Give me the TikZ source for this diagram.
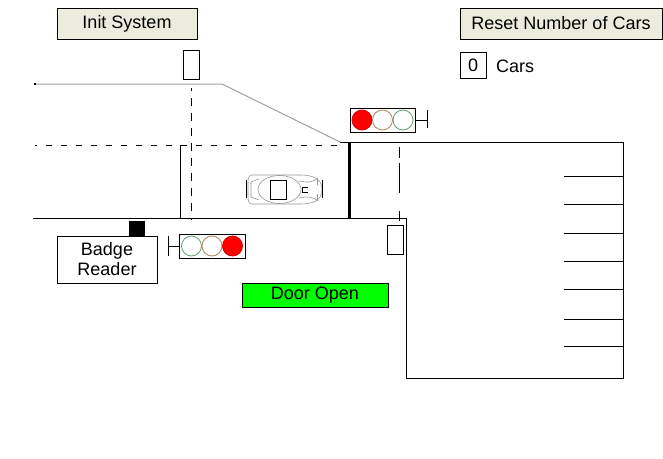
\documentclass[tikz,border=0pt]{standalone}
\usepackage{fontspec}
\setmainfont{Liberation Sans}
\definecolor{btnbg}{RGB}{236,236,222}
\definecolor{roadgray}{RGB}{160,160,160}
\definecolor{cargray}{RGB}{150,150,150}
\definecolor{lampred}{RGB}{255,0,0}
\definecolor{lampbrown}{RGB}{168,136,96}
\definecolor{lampgreen}{RGB}{96,160,112}
\definecolor{dooron}{RGB}{0,255,0}
\begin{document}
\begin{tikzpicture}[x=1pt,y=-1pt,
  every node/.style={inner sep=0pt, outer sep=0pt},
  label18/.style={font=\fontsize{18}{21}\selectfont},
  btn/.style={draw=black, fill=btnbg, line width=1pt, label18},
  plainbox/.style={draw=black, fill=white, line width=1pt, label18},
  thin/.style={line width=1pt},
  lamp/.style={line width=0.8pt},
  carline/.style={draw=cargray, line width=0.6pt}]
\useasboundingbox (0,0) rectangle (663,458);
\fill[white] (0,0) rectangle (663,458);

% buttons and counter
\node[btn, minimum width=140pt, minimum height=31pt] (init) at (127,23.5) {Init System};
\node[btn, minimum width=202pt, minimum height=31pt] (reset) at (561,23.5) {Reset Number of Cars};
\node[plainbox, minimum width=26pt, minimum height=26pt] (count) at (473,65) {0};
\node[label18, anchor=west] (carsword) at (496,66.5) {Cars};

% road edges and lane markings
\fill (34,83) rectangle (36,85);
\draw[roadgray, line width=1pt] (36,84) -- (222,84) -- (340,142);
\draw[thin, dash pattern=on 6pt off 9pt, dash phase=4pt] (35,145) -- (340,145);
\draw[thin, dash pattern=on 8pt off 7pt, dash phase=5pt] (191.5,88) -- (191.5,220);
\draw[thin] (180,145) -- (180,218);
\draw[thin] (33,218) -- (406,218) -- (406,378) -- (623,378) -- (623,142) -- (340,142);
\draw[line width=3pt] (349,142) -- (349,218);
\draw[thin, dash pattern=on 11pt off 5pt on 30pt off 18pt on 10pt off 10pt] (399,147) -- (399,222);

% parking bays
\foreach \yy in {176,204,233,261,289,319,346}
  \draw[thin] (564,\yy) -- (623,\yy);

% sensors
\node[draw, thin, minimum width=16pt, minimum height=29pt] (sensorin) at (191,64.5) {};
\node[draw, thin, minimum width=16pt, minimum height=29pt] (sensorout) at (395,239.5) {};

% badge reader
\node[fill=black, minimum width=16pt, minimum height=16pt] (badgeslot) at (137,229) {};
\node[plainbox, minimum width=100pt, minimum height=47pt, align=center] (badge) at (107,259.5) {Badge\\[-1pt]Reader};

% door indicator
\node[draw=black, fill=dooron, thin, minimum width=146pt, minimum height=24pt, label18] (door) at (315,295) {Door Open};

% traffic light at the gate (inside)
\node[draw, thin, minimum width=65pt, minimum height=24pt] (lighttop) at (382.5,120) {};
\draw[lamp, draw=lampred!85!black, fill=lampred] (362,120) circle (10);
\draw[lamp, draw=lampbrown] (382.5,120) circle (10);
\draw[lamp, draw=lampgreen] (403,120) circle (10);
\draw[thin] (lighttop.east) -- (427,120);
\draw[thin] (427,110) -- (427,128);

% traffic light at the entrance
\node[draw, thin, minimum width=66pt, minimum height=24pt] (lightbot) at (212,246) {};
\draw[lamp, draw=lampgreen] (191.5,246) circle (10);
\draw[lamp, draw=lampbrown] (212,246) circle (10);
\draw[lamp, draw=lampred!85!black, fill=lampred] (232.5,246) circle (10);
\draw[thin] (lightbot.west) -- (168,246);
\draw[thin] (168,236) -- (168,256);

% car seen from above
\draw[carline] (252,175) -- (300,175) .. controls (312,175) and (322,178) .. (322,189.5)
  .. controls (322,201) and (312,204) .. (300,204) -- (252,204)
  .. controls (249,204) and (248,201) .. (248,197) -- (248,182)
  .. controls (248,178) and (249,175) .. (252,175) -- cycle;
\draw[carline] (279.5,189.5) ellipse [x radius=21.5, y radius=14];
\draw[carline] (259,179) -- (251,182) -- (251,197) -- (259,200);
\draw[carline] (299,181) .. controls (308,183) and (314,182) .. (318,178);
\draw[carline] (299,198) .. controls (308,196) and (314,197) .. (318,201);
\draw[carline] (317,179) -- (317,185);
\draw[carline] (317,194) -- (317,200);
\draw[line width=1pt] (246.5,180) -- (246.5,198);
\draw[line width=1pt] (322,180) -- (322,198);
\node[draw, line width=1pt, minimum width=15.5pt, minimum height=19.5pt] (roof) at (278.5,190) {};
\draw[line width=0.8pt] (302,187) -- (308,187);
\draw[line width=0.8pt] (302,192.5) -- (308,192.5);
\draw[line width=0.8pt] (302,187) -- (302,192.5);
\end{tikzpicture}
\end{document}
